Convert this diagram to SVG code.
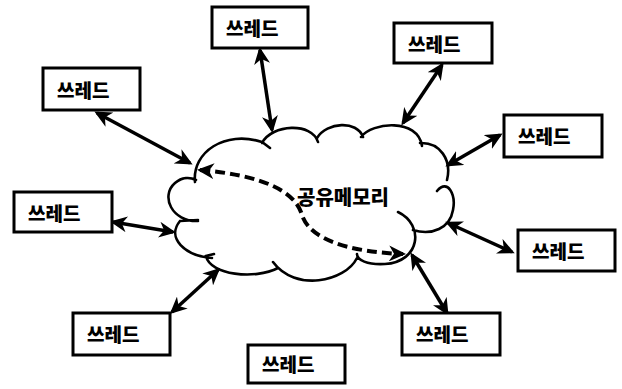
<svg xmlns="http://www.w3.org/2000/svg" width="622" height="389" viewBox="0 0 622 389">
<style>
.box rect{fill:#fff;stroke:#000;stroke-width:3}
.box text,.lbl{font-family:"Noto Sans CJK KR","Noto Sans",sans-serif;font-weight:900;font-size:19px;fill:#000}
.lbl{font-size:20px}
.cloud{fill:none;stroke:#000;stroke-width:2.6;stroke-linecap:round}
.arr{fill:none;stroke:#000;stroke-width:3.5;marker-start:url(#ah);marker-end:url(#ah)}
.dash{fill:none;stroke:#000;stroke-width:4;stroke-dasharray:10 5;marker-start:url(#ah2);marker-end:url(#ah2)}
</style>
<defs>
<marker id="ah" markerUnits="userSpaceOnUse" markerWidth="18" markerHeight="16" refX="14" refY="8" orient="auto-start-reverse" viewBox="0 0 18 16">
<path d="M0,0 L17,8 L0,16 L5,8 z" fill="#000"/>
</marker>
<marker id="ah2" markerUnits="userSpaceOnUse" markerWidth="18" markerHeight="16" refX="14" refY="8" orient="auto-start-reverse" viewBox="0 0 18 16">
<path d="M0,0 L17,8 L0,16 L5,8 z" fill="#000"/>
</marker>
</defs>
<rect width="622" height="389" fill="#fff"/>
<g id="memory">
<path class="cloud" d="M195,182 C192,152 225,130 262,142 L270,148
M262,143 C272,124 312,122 318,142
M317,138 C327,122 357,120 363,137
M361,137 C372,122 418,118 422,146
M420,143 C440,142 452,160 447,180
M437,191 C448,178 456,195 453,210 C450,228 432,236 413,230
M398,212 C425,225 420,262 385,264 C367,265 357,260 357,254
M357,258 C345,282 295,292 273,262
M278,268 C255,280 210,275 206,256 L214,254
M212,258 C185,256 166,238 180,221 L198,220
M198,221 C172,222 160,196 175,183 C182,177 190,177 196,180"/>
<text class="lbl" x="297" y="205">공유메모리</text>
</g>
<g id="connectors">
<path class="arr" d="M260,50 L272,130"/>
<path class="arr" d="M97,113 L190,163"/>
<path class="arr" d="M442,65 L403,123"/>
<path class="arr" d="M500,135 L448,165"/>
<path class="arr" d="M113,222 L173,232"/>
<path class="arr" d="M172,312 L218,270"/>
<path class="arr" d="M447,313 L412,255"/>
<path class="arr" d="M512,252 L448,223"/>
<path class="dash" d="M200,170 C260,175 295,190 302,215 C310,240 350,252 403,254"/>
</g>
<g id="t1" class="box"><rect x="212" y="7" width="96" height="41"/><text x="226" y="36">쓰레드</text></g>
<g id="t2" class="box"><rect x="43" y="68" width="97" height="42"/><text x="57" y="98">쓰레드</text></g>
<g id="t3" class="box"><rect x="394" y="23" width="98" height="40"/><text x="408" y="52">쓰레드</text></g>
<g id="t4" class="box"><rect x="504" y="115" width="98" height="42"/><text x="518" y="144">쓰레드</text></g>
<g id="t5" class="box"><rect x="14" y="192" width="98" height="40"/><text x="28" y="221">쓰레드</text></g>
<g id="t6" class="box"><rect x="73" y="313" width="97" height="42"/><text x="87" y="342">쓰레드</text></g>
<g id="t7" class="box"><rect x="248" y="345" width="97" height="38"/><text x="262" y="372">쓰레드</text></g>
<g id="t8" class="box"><rect x="402" y="313" width="98" height="42"/><text x="416" y="342">쓰레드</text></g>
<g id="t9" class="box"><rect x="518" y="230" width="97" height="41"/><text x="532" y="259">쓰레드</text></g>
</svg>
